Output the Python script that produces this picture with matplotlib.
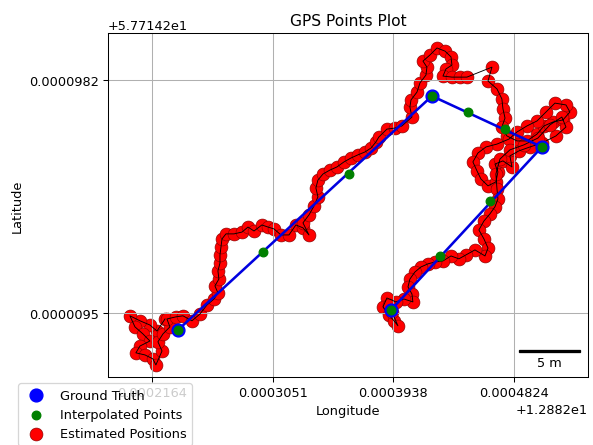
import numpy as np
import matplotlib
matplotlib.use("Agg")
import matplotlib.pyplot as plt
from mpl_toolkits.axes_grid1.anchored_artists import AnchoredSizeBar

LAT0 = 57.7142
LON0 = 12.882
UNIT = 1e-7  # values below are in 1e-7 degree units relative to the offsets

# Ground truth (lon, lat offsets)
gt_lon7 = [2355, 4222, 5030, 3921]
gt_lat7 = [30, 921, 727, 106]

# Interpolated points
ip_lon7 = [2355, 2980, 3612, 4222, 4487, 4759, 5030, 4648, 4281, 3921]
ip_lat7 = [30, 327, 624, 921, 860, 795, 727, 521, 312, 106]

# Estimated positions
est_lon7 = [2260, 2201, 2149, 2076, 2002, 2039, 2098, 2149, 2076, 2046,
            2113, 2171, 2193, 2238, 2208, 2245, 2296, 2274, 2340, 2392,
            2458, 2517, 2568, 2620, 2649, 2627, 2656, 2649, 2664, 2664,
            2671, 2679, 2708, 2767, 2826, 2870, 2914, 2972, 3017, 3061,
            3112, 3171, 3222, 3274, 3318, 3274, 3318, 3355, 3384, 3369,
            3384, 3421, 3472, 3524, 3575, 3627, 3678, 3730, 3774, 3810,
            3832, 3891, 3950, 4001, 4075, 4060, 4068, 4112, 4134, 4178,
            4185, 4156, 4207, 4259, 4318, 4362, 4369, 4325, 4303, 4369,
            4428, 4479, 4663, 4634, 4700, 4736, 4744, 4759, 4736, 4773,
            4847, 4920, 4994, 5045, 5111, 5185, 5236, 5207, 5126, 5060,
            4994, 4920, 4847, 4788, 4700, 4619, 4560, 4523, 4553, 4582,
            4634, 4692, 4707, 4685, 4744, 4810, 4795, 4861, 4942, 5030,
            5133, 5207, 5177, 5089, 5001, 4898, 4795, 4722, 4692, 4700,
            4707, 4685, 4648, 4604, 4567, 4604, 4634, 4612, 4538, 4472,
            4420, 4362, 4303, 4244, 4193, 4141, 4097, 4060, 4046, 4075,
            4082, 4016, 3957, 3891, 3862, 3906, 3943, 3972, 3928, 3906]
est_lat7 = [72, 26, 49, 65, 84, 42, 15, -12, -31, -57,
            -65, -80, -103, -50, -15, 15, 42, 72, 80, 84,
            65, 91, 125, 148, 171, 198, 224, 255, 285, 316,
            346, 377, 396, 396, 403, 422, 407, 430, 422, 415,
            392, 392, 430, 419, 392, 438, 468, 502, 537, 571,
            601, 624, 639, 651, 670, 685, 697, 708, 723, 746,
            765, 795, 799, 807, 841, 879, 906, 936, 971, 1001,
            1031, 1054, 1077, 1104, 1092, 1070, 1039, 1024, 997, 993,
            993, 993, 1031, 978, 948, 910, 872, 837, 803, 769,
            750, 750, 776, 807, 822, 830, 860, 887, 894, 860,
            826, 807, 784, 757, 738, 727, 704, 670, 636, 605,
            579, 594, 632, 662, 674, 651, 693, 712, 727, 742,
            769, 803, 841, 811, 761, 735, 716, 681, 624, 567,
            529, 499, 472, 445, 411, 377, 342, 312, 335, 316,
            301, 312, 293, 289, 282, 270, 251, 224, 194, 167,
            137, 148, 137, 152, 118, 87, 65, 46, 99, 125]

x_ticks7 = [2164, 3051, 3938, 4824]
y_ticks7 = [95, 982]
x_lim7 = [1841, 5369]
y_lim7 = [-149, 1161]

def lon(v):
    return LON0 + np.asarray(v, dtype=float) * UNIT

def lat(v):
    return LAT0 + np.asarray(v, dtype=float) * UNIT

DPI = 92.66
fig = plt.figure(figsize=(593 / DPI, 446 / DPI), dpi=DPI)
ax = fig.add_axes([108 / 593, 1 - 378 / 446, 480 / 593, 344 / 446])

ax.scatter(lon(est_lon7), lat(est_lat7), s=100, c='red',
           edgecolors='#8a0000', linewidths=0.5, label='Estimated Positions', zorder=1)
ax.plot(lon(est_lon7), lat(est_lat7), color='black', linewidth=0.7, zorder=2)
ax.plot(lon(gt_lon7), lat(gt_lat7), color='#0000e0', linewidth=2.0, zorder=3)
ax.scatter(lon(gt_lon7), lat(gt_lat7), s=100, c='blue', label='Ground Truth', zorder=4)
ax.scatter(lon(ip_lon7), lat(ip_lat7), s=45, c='green', label='Interpolated Points', zorder=5)

ax.set_xlim(lon(x_lim7))
ax.set_ylim(lat(y_lim7))
ax.set_xticks(lon(x_ticks7))
ax.set_yticks(lat(y_ticks7))
ax.ticklabel_format(axis='x', useOffset=LON0, style='plain')
ax.ticklabel_format(axis='y', useOffset=LAT0, style='plain')
ax.grid(True)

ax.set_title('GPS Points Plot')
ax.set_xlabel('Longitude')
ax.set_ylabel('Latitude')

handles, labels = ax.get_legend_handles_labels()
order = ['Ground Truth', 'Interpolated Points', 'Estimated Positions']
hmap = dict(zip(labels, handles))
ax.legend([hmap[k] for k in order], order, loc='upper left', bbox_to_anchor=(-0.2, 0))

scalebar = AnchoredSizeBar(ax.transData, 5 / 111320, '5 m', 'lower right',
                           pad=0.4, borderpad=0.2, sep=3, frameon=False,
                           size_vertical=1e-6, color='black')
ax.add_artist(scalebar)

fig.savefig('out.png', dpi=DPI)
